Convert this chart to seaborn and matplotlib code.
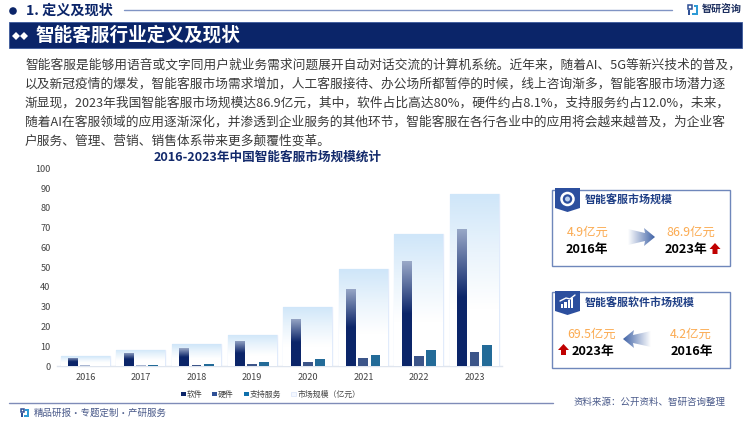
import numpy as np
import pandas as pd
import matplotlib
matplotlib.use('Agg')
import matplotlib.pyplot as plt
import seaborn as sns
from matplotlib.colors import LinearSegmentedColormap
from matplotlib.patches import Circle, Polygon, Rectangle

sns.set_theme(style='white')
plt.rcParams['font.family'] = ['Noto Sans CJK SC', 'DejaVu Sans']
plt.rcParams['axes.unicode_minus'] = False

# Данные с картинки
years = ['2016', '2017', '2018', '2019', '2020', '2021', '2022', '2023']
software = [4.2, 6.6, 9.0, 12.7, 24.0, 39.0, 53.0, 69.5]
hardware = [0.7, 0.6, 0.6, 1.2, 2.2, 4.0, 5.2, 7.0]
support = [0.0, 0.5, 0.9, 1.9, 3.4, 5.7, 8.0, 10.4]
market = [4.9, 8.3, 11.0, 15.8, 30.0, 49.0, 66.7, 86.9]
y_ticks = list(range(0, 101, 10))

series_names = ['软件', '硬件', '支持服务']
market_name = '市场规模（亿元）'
chart_title = '2016-2023年中国智能客服市场规模统计'
body_lines = [
    '智能客服是能够用语音或文字同用户就业务需求问题展开自动对话交流的计算机系统。近年来，随着AI、5G等新兴技术的普及，',
    '以及新冠疫情的爆发，智能客服市场需求增加，人工客服接待、办公场所都暂停的时候，线上咨询渐多，智能客服市场潜力逐',
    '渐显现，2023年我国智能客服市场规模达86.9亿元，其中，软件占比高达80%，硬件约占8.1%，支持服务约占12.0%，未来，',
    '随着AI在客服领域的应用逐渐深化，并渗透到企业服务的其他环节，智能客服在各行各业中的应用将会越来越普及，为企业客',
    '户服务、管理、营销、销售体系带来更多颠覆性变革。',
]

NAVY = '#0b2569'
BLUE = '#2f5096'
TEAL = '#0f70ac'
ORANGE = '#fbab52'
FRAME = '#6f87bb'
W, H = 750, 422

fig = plt.figure(figsize=(7.5, 4.22), dpi=100, facecolor='white')

# Слой оформления в пиксельных координатах
deco = fig.add_axes([0, 0, 1, 1], zorder=0)
deco.set_axis_off()


def txt(x, y, s, size, color='#333333', weight='normal', ha='left'):
    deco.text(x, y, s, fontsize=size, color=color, fontweight=weight, ha=ha, va='center')


def gradient_fill(ax, box, colors, clip, horizontal=False, zorder=3):
    # Градиент, обрезанный по форме фигуры
    cmap = LinearSegmentedColormap.from_list('g', colors)
    grad = np.linspace(0, 1, 128)
    grad = grad.reshape(1, -1) if horizontal else grad.reshape(-1, 1)
    im = ax.imshow(grad, cmap=cmap, extent=box, origin='upper', aspect='auto',
                   vmin=0, vmax=1, zorder=zorder, interpolation='bilinear')
    im.set_clip_path(clip)


def logo(x, y, s):
    deco.add_patch(Rectangle((x, y), s * 0.42, s * 0.42, fc='none', ec=BLUE, lw=1.1))
    deco.add_patch(Rectangle((x, y + s * 0.5), s * 0.22, s * 0.5, fc=BLUE, ec='none'))
    deco.add_patch(Rectangle((x + s * 0.55, y), s * 0.45, s * 0.2, fc='#2e9bd6', ec='none'))
    deco.add_patch(Rectangle((x + s * 0.8, y), s * 0.2, s * 0.8, fc='#2e9bd6', ec='none'))
    deco.add_patch(Rectangle((x + s * 0.4, y + s * 0.8), s * 0.6, s * 0.2, fc='#2e9bd6', ec='none'))


def up_arrow(cx, cy):
    pts = [(cx, cy - 6), (cx + 5.5, cy), (cx + 2.5, cy), (cx + 2.5, cy + 5),
           (cx - 2.5, cy + 5), (cx - 2.5, cy), (cx - 5.5, cy)]
    deco.add_patch(Polygon(pts, fc='#c00000', ec='none'))


def side_arrow(x0, x1, cy, colors):
    # x0 - хвост, x1 - острие
    sign = 1 if x1 > x0 else -1
    neck = x1 - sign * 9
    pts = [(x0, cy - 8), (neck - sign * 1, cy - 4), (neck - sign * 2, cy - 9), (x1, cy),
           (neck - sign * 2, cy + 9), (neck - sign * 1, cy + 4), (x0, cy + 8)]
    poly = Polygon(pts, fc='none', ec='none', transform=deco.transData)
    deco.add_patch(poly)
    left, right = min(x0, x1), max(x0, x1)
    gradient_fill(deco, (left, right, cy + 10, cy - 10), colors if sign > 0 else colors[::-1],
                  poly, horizontal=True)


def badge(x, y):
    pts = [(x, y), (x + 25, y), (x + 25, y + 20), (x + 12.5, y + 24), (x, y + 20)]
    deco.add_patch(Polygon(pts, fc='#2c4f9e', ec='none', zorder=4))


# Шапка
deco.add_patch(Circle((13, 11), 3.8, fc=NAVY, ec='none'))
txt(26, 10.5, '1. 定义及现状', 10.2, NAVY, 'bold')
deco.plot([124, 672], [10, 10], color='#8094c4', lw=1)
logo(688, 5, 10)
txt(702, 9.5, '智研咨询', 7.2, '#1d2f5f', 'bold')

deco.add_patch(Rectangle((9, 22), 733, 26, fc=NAVY, ec='#3c5a9c', lw=0.6))
for dx in (16, 24):
    deco.add_patch(Polygon([(dx - 4, 36), (dx, 32), (dx + 4, 36), (dx, 40)], fc='white', ec='none'))
txt(35, 35, '智能客服行业定义及现状', 13.4, 'white', 'bold')

# Основной текст
for line, y in zip(body_lines, [65.5, 84.5, 103, 122, 141]):
    txt(25, y, line, 9.15, '#3a3a3a')

txt(154, 157, chart_title, 9.1, '#12296b', 'bold')

# Подвал
deco.plot([9, 553], [403, 403], color='#7f8cb8', lw=1)
logo(21, 409, 8)
txt(34, 413.5, '精品研报·专题定制·产研服务', 6.8, '#4a5a8a')
txt(574, 402, '资料来源：公开资料、智研咨询整理', 6.8, '#4a5a8a')

# Легенда
for x, c, label in [(181, NAVY, series_names[0]), (212, BLUE, series_names[1]), (244, TEAL, series_names[2])]:
    deco.add_patch(Rectangle((x, 391.5), 4.5, 4.5, fc=c, ec='none'))
    txt(x + 6, 394, label, 5.7, '#444444')
deco.add_patch(Rectangle((291, 391.5), 4.5, 4.5, fc='#f4f8ff', ec='#dfe9fb', lw=0.6))
txt(297.5, 394, market_name, 5.7, '#444444')

# Карточка 1
deco.add_patch(Rectangle((552, 190), 178, 75.5, fc='white', ec=FRAME, lw=1))
badge(555, 188)
deco.add_patch(Circle((567.5, 199), 6, fc='none', ec='white', lw=1.8, zorder=5))
deco.add_patch(Circle((567.5, 199), 2.5, fc='#bcd0ee', ec='none', zorder=5))
txt(585, 200, '智能客服市场规模', 7.9, '#1f3f86', 'bold')
txt(567, 232, '4.9亿元', 8.9, ORANGE)
txt(566, 249, '2016年', 9.2, 'black', 'bold')
side_arrow(628, 655, 237, ['#ffffff', '#3f62a6'])
txt(666, 232, '86.9亿元', 8.9, ORANGE)
txt(665, 249, '2023年', 9.2, 'black', 'bold')
up_arrow(715, 249)

# Карточка 2
deco.add_patch(Rectangle((552, 292), 178, 75.5, fc='white', ec=FRAME, lw=1))
badge(555, 291)
for i, h_ in enumerate((4, 6, 8, 10)):
    deco.add_patch(Rectangle((561 + i * 3.3, 308 - h_), 2.4, h_, fc='white', ec='none', zorder=5))
deco.plot([560, 566, 570, 575], [301, 298, 299, 295], color='white', lw=1, zorder=5)
txt(585, 303, '智能客服软件市场规模', 7.9, '#1f3f86', 'bold')
txt(567, 334, '69.5亿元', 8.9, ORANGE)
txt(572, 351, '2023年', 9.2, 'black', 'bold')
up_arrow(563.5, 350)
side_arrow(651, 623, 339, ['#ffffff', '#3f62a6'])
txt(670, 334, '4.2亿元', 8.9, ORANGE)
txt(671, 351, '2016年', 9.2, 'black', 'bold')

deco.set_xlim(0, W)
deco.set_ylim(H, 0)

# График
ax = fig.add_axes([57.5 / W, (H - 366) / H, 444.8 / W, 197.7 / H], zorder=1)
ax.patch.set_alpha(0)

market_df = pd.DataFrame({'year': years, 'value': market})
sns.barplot(data=market_df, x='year', y='value', width=0.88, color='#f4f8ff',
            edgecolor='#e1ebfb', linewidth=1, ax=ax, zorder=2)
market_bars = list(ax.patches)

parts_df = pd.DataFrame({'year': years * 3,
                         'series': np.repeat(series_names, len(years)),
                         'value': software + hardware + support})
sns.barplot(data=parts_df, x='year', y='value', hue='series', hue_order=series_names,
            palette=[NAVY, BLUE, TEAL], width=0.66, gap=0.2, legend=False,
            linewidth=0, ax=ax, zorder=4)

for bar in market_bars:
    x, w, v = bar.get_x(), bar.get_width(), bar.get_height()
    gradient_fill(ax, (x, x + w, 0, v), ['#cfe6f9', '#eaf4fc', '#ffffff', '#ffffff'], bar, zorder=3)

for bar, v in zip(ax.containers[-3], software):
    x, w = bar.get_x(), bar.get_width()
    gradient_fill(ax, (x, x + w, 0, v), ['#9aa9c8', NAVY, NAVY], bar, zorder=5)

# Первые две полоски аппаратной части на картинке светлее
for bar in list(ax.containers[-2])[:2]:
    bar.set_facecolor('#a9b6d2')

ax.set_xlim(-0.5, 7.5)
ax.set_ylim(0, 100)
ax.set_yticks(y_ticks)
ax.set_xlabel('')
ax.set_ylabel('')
ax.tick_params(axis='both', length=0, labelsize=6.6, labelcolor='#444444')
ax.tick_params(axis='x', pad=5)
ax.tick_params(axis='y', pad=5)
sns.despine(ax=ax, left=True, top=True, right=True)
ax.spines['bottom'].set_color('#dfe5ee')
ax.spines['bottom'].set_linewidth(1)
ax.grid(False)

fig.savefig('out.png', dpi=100, facecolor='white')
